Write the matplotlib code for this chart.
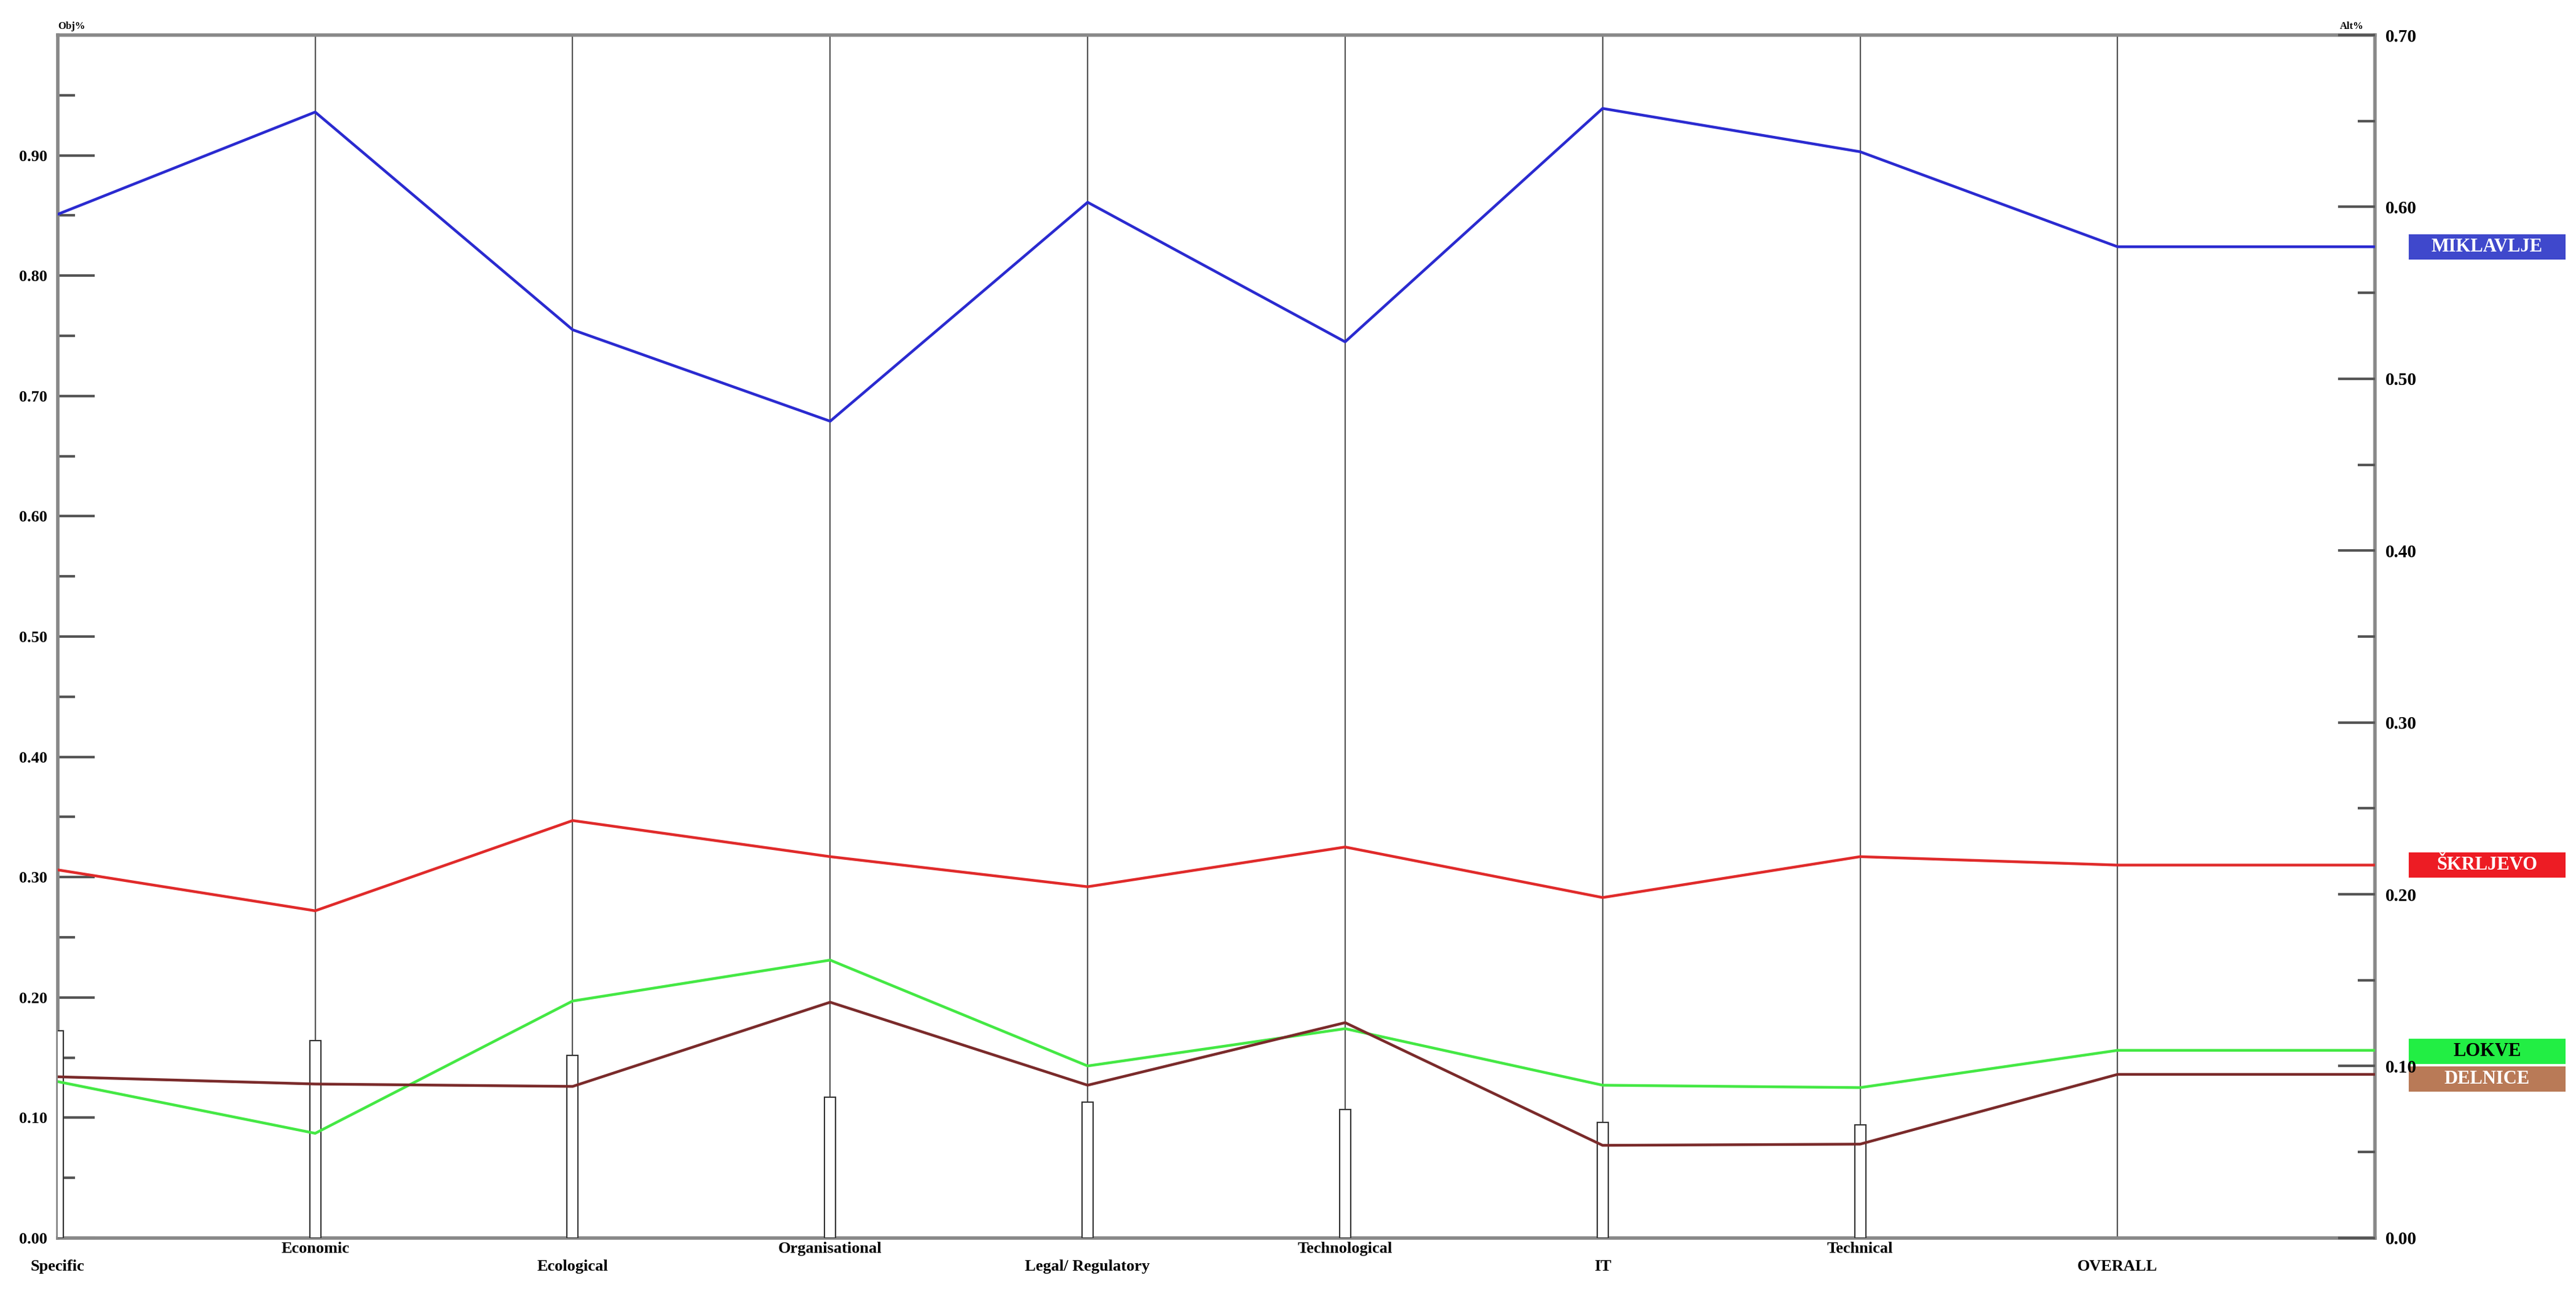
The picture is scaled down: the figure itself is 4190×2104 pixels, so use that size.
import numpy as np
import matplotlib.pyplot as plt
from matplotlib.patches import Rectangle
from matplotlib.transforms import blended_transform_factory

# ---------------- data ----------------
categories = ['Specific', 'Economic', 'Ecological', 'Organisational', 'Legal/ Regulatory',
              'Technological', 'IT', 'Technical', 'OVERALL']
label_low = [True, False, True, False, True, False, True, False, True]

# objective weights (white bars)
weights = [0.172, 0.164, 0.152, 0.117, 0.113, 0.107, 0.096, 0.094]

# alternative scores, last value repeated to the right axis
miklavlje = [0.851, 0.936, 0.755, 0.679, 0.861, 0.745, 0.939, 0.903, 0.824, 0.824]
skrljevo = [0.306, 0.272, 0.347, 0.317, 0.292, 0.325, 0.283, 0.317, 0.310, 0.310]
lokve = [0.130, 0.087, 0.197, 0.231, 0.143, 0.174, 0.127, 0.125, 0.156, 0.156]
delnice = [0.134, 0.128, 0.126, 0.196, 0.127, 0.179, 0.077, 0.078, 0.136, 0.136]

series = [('MIKLAVLJE', miklavlje, '#2a2ad0', '#3f48cc', 0.824),
          ('ŠKRLJEVO', skrljevo, '#e02a2a', '#ed1c24', 0.310),
          ('LOKVE', lokve, '#44e844', '#22ee44', 0.155),
          ('DELNICE', delnice, '#7a2a2a', '#b97a57', 0.132)]

plt.rcParams['font.family'] = ['Liberation Serif', 'DejaVu Serif']
plt.rcParams['font.weight'] = 'bold'

fig = plt.figure(figsize=(41.9, 21.04), dpi=100)
ax = fig.add_axes([0.0224, 0.0433, 0.8996, 0.9296])
ax.set_xlim(0, 9)
ax.set_ylim(0, 1.0)

x = np.arange(10)

# ---- vertical category lines and weight bars ----
for i in range(9):
    if i > 0:
        ax.axvline(i, color='#555555', lw=1.6, zorder=2)
    if i < len(weights):
        ax.bar(i, weights[i], width=0.043, color='white', edgecolor='#333333', lw=1.5, zorder=3)

# ---- alternative lines ----
for name, vals, lc, bc, ylab in series:
    ax.plot(x, vals, color=lc, lw=3.2, zorder=4)

# ---- spines ----
for s in ax.spines.values():
    s.set_color('#888888')
    s.set_linewidth(4)

# ---- left axis ticks ----
ax.set_yticks(np.arange(0, 0.95, 0.1))
ax.set_yticklabels(['%.2f' % v for v in np.arange(0, 0.95, 0.1)], fontsize=19, fontweight='bold')
ax.set_yticks(np.arange(0.05, 1.0, 0.1), minor=True)
ax.tick_params(axis='y', which='major', direction='in', length=43, width=3, color='#555555', pad=12)
ax.tick_params(axis='y', which='minor', direction='in', length=20, width=3, color='#555555')
ax.set_xticks([])

# ---- right axis ----
ax2 = ax.twinx()
ax2.set_ylim(0, 0.70)
rt = np.arange(0, 0.75, 0.1)
ax2.set_yticks(rt)
ax2.set_yticklabels(['%.2f' % v for v in rt], fontsize=21, fontweight='bold')
ax2.set_yticks(np.arange(0.05, 0.70, 0.1), minor=True)
ax2.tick_params(axis='y', which='major', direction='in', length=43, width=3, color='#555555', pad=12)
ax2.tick_params(axis='y', which='minor', direction='in', length=20, width=3, color='#555555')
for s in ax2.spines.values():
    s.set_visible(False)

# ---- category labels ----
trans = blended_transform_factory(ax.transData, ax.transAxes)
for i, c in enumerate(categories):
    yy = -0.018 if label_low[i] else -0.003
    ax.text(i, yy, c, transform=trans, ha='center', va='top', fontsize=19, fontweight='bold')

ax.text(0.0, 1.003, 'Obj%', transform=ax.transAxes, ha='left', va='bottom', fontsize=12, fontweight='bold')
ax.text(0.995, 1.003, 'Alt%', transform=ax.transAxes, ha='right', va='bottom', fontsize=12, fontweight='bold')

# ---- name boxes ----
btrans = blended_transform_factory(ax.transAxes, ax.transData)
bx0, bw, bh = 1.0146, 0.0675, 0.021
for name, vals, lc, bc, ylab in series:
    ax.add_patch(Rectangle((bx0, ylab - bh / 2), bw, bh, transform=btrans, fc=bc, ec='none',
                           clip_on=False, zorder=5))
    ax.text(bx0 + bw / 2, ylab, name, transform=btrans, ha='center', va='center', fontsize=22,
            fontweight='bold', color='white' if name != 'LOKVE' else 'black', zorder=6)

fig.savefig('out.png', dpi=100)
